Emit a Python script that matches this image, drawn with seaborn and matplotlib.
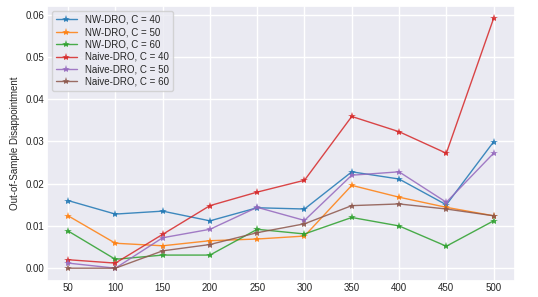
import numpy as np
import pandas as pd
import seaborn as sns
import matplotlib
matplotlib.use("Agg")
import matplotlib.pyplot as plt

sample_sizes = [50, 100, 150, 200, 250, 300, 350, 400, 450, 500]

nw_c40 = [0.0160, 0.0128, 0.0135, 0.0112, 0.0143, 0.0140, 0.0228, 0.0211, 0.0150, 0.0299]
nw_c50 = [0.0124, 0.0059, 0.0053, 0.0065, 0.0069, 0.0076, 0.0196, 0.0168, 0.0144, 0.0124]
nw_c60 = [0.0088, 0.0021, 0.0031, 0.0031, 0.0092, 0.0081, 0.0120, 0.0100, 0.0052, 0.0112]
naive_c40 = [0.0020, 0.0012, 0.0080, 0.0148, 0.0180, 0.0208, 0.0359, 0.0323, 0.0272, 0.0591]
naive_c50 = [0.0012, 0.0000, 0.0072, 0.0092, 0.0144, 0.0113, 0.0220, 0.0228, 0.0156, 0.0272]
naive_c60 = [0.0000, 0.0000, 0.0041, 0.0056, 0.0084, 0.0105, 0.0148, 0.0152, 0.0140, 0.0124]

series = {
    "NW-DRO, C = 40": nw_c40,
    "NW-DRO, C = 50": nw_c50,
    "NW-DRO, C = 60": nw_c60,
    "Naive-DRO, C = 40": naive_c40,
    "Naive-DRO, C = 50": naive_c50,
    "Naive-DRO, C = 60": naive_c60,
}

sns.set_theme(style="darkgrid")
plt.rcParams["font.family"] = ["Liberation Sans", "DejaVu Sans"]

fig = plt.figure(figsize=(5.38, 2.97), dpi=100)
ax = fig.add_axes([0.087, 0.055, 0.870, 0.925])

colors = plt.cm.tab10(np.arange(len(series)))
for color, (name, vals) in zip(colors, series.items()):
    df = pd.DataFrame({"n": sample_sizes, "val": vals})
    sns.lineplot(data=df, x="n", y="val", marker="*", markersize=6,
                 markeredgewidth=0, linewidth=1, alpha=0.85, color=color,
                 label=name, ax=ax)

ax.set_xticks(sample_sizes)
ax.set_xlabel("")
ax.set_ylabel("Out-of-Sample Disappointment", fontsize=7, labelpad=4)
ax.tick_params(labelsize=7, length=0, pad=2)
ax.legend(loc="upper left", fontsize=7, handlelength=2.2, labelspacing=0.25,
          borderpad=0.4)

fig.savefig("out.png", dpi=100)
